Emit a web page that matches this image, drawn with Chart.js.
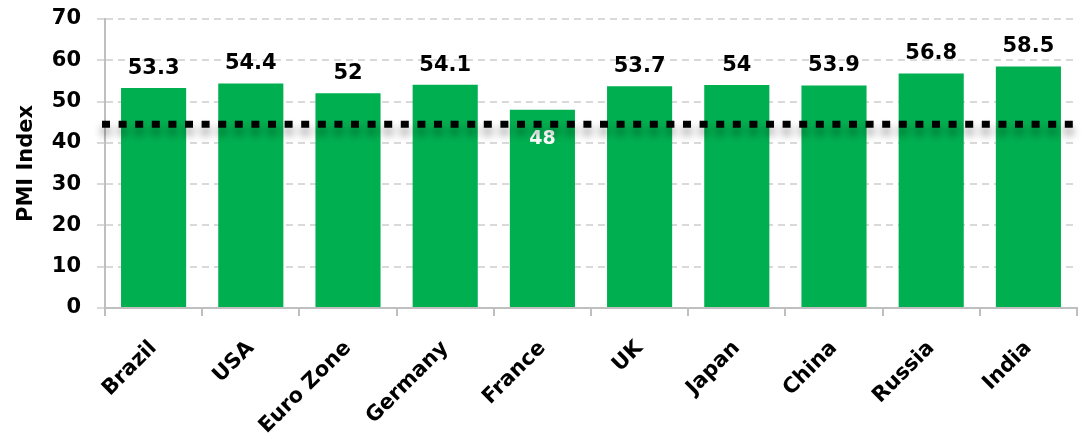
<!DOCTYPE html>
<html>
<head>
<meta charset="utf-8">
<script src="https://cdn.jsdelivr.net/npm/chart.js@4/dist/chart.umd.min.js"></script>
<style>
html,body{margin:0;padding:0;background:#fff;}
#wrap{width:1082px;height:440px;}
</style>
</head>
<body>
<div id="wrap"><canvas id="c" width="1082" height="440"></canvas></div>
<script>
const categories = ['Brazil','USA','Euro Zone','Germany','France','UK','Japan','China','Russia','India'];
const pmiValues = [53.3, 54.4, 52, 54.1, 48, 53.7, 54, 53.9, 56.8, 58.5];
const valueLabels = ['53.3','54.4','52','54.1','48','53.7','54','53.9','56.8','58.5'];
const insideLabels = ['France'];
const threshold = 44.5;
const yTicks = [0,10,20,30,40,50,60,70];

const FONT = '"DejaVu Sans", sans-serif';

const overlay = {
  id: 'overlay',
  afterDatasetsDraw(chart) {
    const ctx = chart.ctx;
    const y = chart.scales.y;
    const area = chart.chartArea;
    const meta = chart.getDatasetMeta(0);
    ctx.save();
    ctx.textAlign = 'center';
    meta.data.forEach((bar, i) => {
      const inside = insideLabels.includes(categories[i]);
      if (inside) {
        ctx.font = 'bold 19px ' + FONT;
        ctx.fillStyle = '#ffffff';
        ctx.textBaseline = 'middle';
        ctx.fillText(valueLabels[i], bar.x, bar.y + 29);
      } else {
        ctx.font = 'bold 21px ' + FONT;
        ctx.fillStyle = '#000000';
        ctx.textBaseline = 'alphabetic';
        ctx.fillText(valueLabels[i], bar.x, bar.y - 14);
      }
    });
    ctx.restore();
    const ty = y.getPixelForValue(threshold);
    ctx.save();
    ctx.strokeStyle = '#000';
    ctx.lineWidth = 7;
    ctx.setLineDash([8, 8.6]);
    ctx.shadowColor = 'rgba(0,0,0,0.45)';
    ctx.shadowBlur = 8;
    ctx.shadowOffsetY = 7;
    ctx.beginPath();
    ctx.moveTo(area.left - 3, ty);
    ctx.lineTo(area.right, ty);
    ctx.stroke();
    ctx.restore();
  }
};

new Chart(document.getElementById('c'), {
  type: 'bar',
  data: {
    labels: categories,
    datasets: [{
      data: pmiValues,
      backgroundColor: '#00B050',
      borderWidth: 0,
      categoryPercentage: 1,
      barPercentage: 0.67
    }]
  },
  options: {
    responsive: false,
    animation: false,
    devicePixelRatio: 1,
    layout: { padding: { top: 19, right: 5, left: 0, bottom: 0 } },
    plugins: { legend: { display: false }, tooltip: { enabled: false } },
    scales: {
      x: {
        offset: true,
        grid: { offset: true, drawOnChartArea: false, drawTicks: true, tickLength: 8, color: '#bfbfbf', lineWidth: 2 },
        border: { color: '#bfbfbf', width: 2 },
        ticks: {
          color: '#000',
          font: { family: FONT, size: 21, weight: 'bold' },
          minRotation: 45, maxRotation: 45, autoSkip: false, padding: 20
        },
        afterFit(s) { s.height = 132; s.paddingLeft = 0; s.paddingRight = 0; }
      },
      y: {
        min: 0, max: 70,
        afterBuildTicks(s) { s.ticks = yTicks.map(v => ({ value: v })); },
        grid: { color: '#d9d9d9', lineWidth: 2, tickLength: 8, tickColor: '#d9d9d9', tickBorderDash: [7, 5] },
        border: { color: '#bfbfbf', width: 2, dash: [7, 5] },
        ticks: {
          color: '#000',
          font: { family: FONT, size: 21, weight: 'bold' },
          padding: 16
        },
        title: {
          display: true, text: 'PMI Index', color: '#000',
          font: { family: FONT, size: 21, weight: 'bold' },
          padding: { top: 14, bottom: 0 }
        },
        afterFit(s) { s.width = 105; s.paddingTop = 0; s.paddingBottom = 0; }
      }
    }
  },
  plugins: [overlay]
});
</script>
</body>
</html>
